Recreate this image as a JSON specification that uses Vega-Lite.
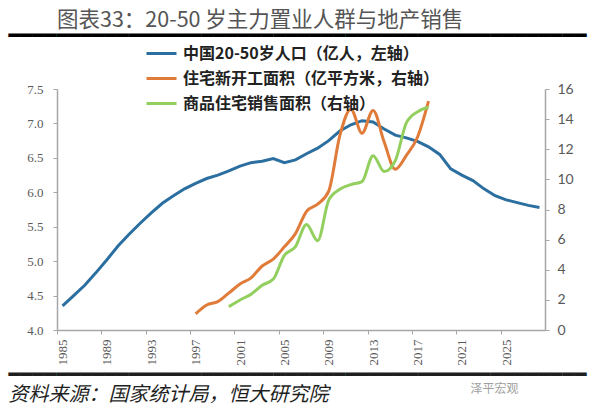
{
  "$schema": "https://vega.github.io/schema/vega-lite/v6.json",
  "width": 488,
  "height": 241,
  "autosize": "none",
  "padding": {"left": 57, "top": 89, "right": 55, "bottom": 82},
  "background": "white",
  "config": {"view": {"stroke": null}, "axis": {"labelOverlap": false, "labelSeparation": 0}},
  "title": {
    "text": "图表33：20-50 岁主力置业人群与地产销售",
    "anchor": "start",
    "frame": "group",
    "font": "Noto Sans CJK SC",
    "fontSize": 21.5,
    "fontWeight": "normal",
    "color": "#555555",
    "offset": -6
  },
  "datasets": {
    "pop": [
      {"year": 1985, "value": 4.35}, {"year": 1986, "value": 4.50}, {"year": 1987, "value": 4.65},
      {"year": 1988, "value": 4.83}, {"year": 1989, "value": 5.02}, {"year": 1990, "value": 5.22},
      {"year": 1991, "value": 5.39}, {"year": 1992, "value": 5.55}, {"year": 1993, "value": 5.70},
      {"year": 1994, "value": 5.84}, {"year": 1995, "value": 5.95}, {"year": 1996, "value": 6.05},
      {"year": 1997, "value": 6.13}, {"year": 1998, "value": 6.20}, {"year": 1999, "value": 6.25},
      {"year": 2000, "value": 6.31}, {"year": 2001, "value": 6.38}, {"year": 2002, "value": 6.43},
      {"year": 2003, "value": 6.45}, {"year": 2004, "value": 6.49}, {"year": 2005, "value": 6.43},
      {"year": 2006, "value": 6.47}, {"year": 2007, "value": 6.56}, {"year": 2008, "value": 6.64},
      {"year": 2009, "value": 6.75}, {"year": 2010, "value": 6.89}, {"year": 2011, "value": 6.98},
      {"year": 2012, "value": 7.04}, {"year": 2013, "value": 7.02}, {"year": 2014, "value": 6.92},
      {"year": 2015, "value": 6.83}, {"year": 2016, "value": 6.79}, {"year": 2017, "value": 6.74},
      {"year": 2018, "value": 6.66}, {"year": 2019, "value": 6.55}, {"year": 2020, "value": 6.34},
      {"year": 2021, "value": 6.25}, {"year": 2022, "value": 6.17}, {"year": 2023, "value": 6.05},
      {"year": 2024, "value": 5.95}, {"year": 2025, "value": 5.89}, {"year": 2026, "value": 5.85},
      {"year": 2027, "value": 5.81}, {"year": 2028, "value": 5.78}
    ],
    "starts": [
      {"year": 1997, "value": 1.07}, {"year": 1998, "value": 1.66}, {"year": 1999, "value": 1.88},
      {"year": 2000, "value": 2.46}, {"year": 2001, "value": 3.05}, {"year": 2002, "value": 3.46},
      {"year": 2003, "value": 4.25}, {"year": 2004, "value": 4.71}, {"year": 2005, "value": 5.52},
      {"year": 2006, "value": 6.40}, {"year": 2007, "value": 7.88}, {"year": 2008, "value": 8.36},
      {"year": 2009, "value": 9.22}, {"year": 2010, "value": 12.90}, {"year": 2011, "value": 14.66},
      {"year": 2012, "value": 13.07}, {"year": 2013, "value": 14.58}, {"year": 2014, "value": 12.48},
      {"year": 2015, "value": 10.67}, {"year": 2016, "value": 11.59}, {"year": 2017, "value": 12.80},
      {"year": 2018, "value": 15.20}
    ],
    "sales": [
      {"year": 2000, "value": 1.55}, {"year": 2001, "value": 1.99}, {"year": 2002, "value": 2.38},
      {"year": 2003, "value": 2.97}, {"year": 2004, "value": 3.38}, {"year": 2005, "value": 4.96},
      {"year": 2006, "value": 5.54}, {"year": 2007, "value": 7.01}, {"year": 2008, "value": 5.93},
      {"year": 2009, "value": 8.62}, {"year": 2010, "value": 9.34}, {"year": 2011, "value": 9.65},
      {"year": 2012, "value": 9.85}, {"year": 2013, "value": 11.57}, {"year": 2014, "value": 10.52},
      {"year": 2015, "value": 11.24}, {"year": 2016, "value": 13.75}, {"year": 2017, "value": 14.48},
      {"year": 2018, "value": 14.79}
    ]
  },
  "layer": [
    {
      "data": {"name": "pop"},
      "mark": {"type": "line", "strokeWidth": 3},
      "encoding": {
        "x": {
          "field": "year",
          "type": "quantitative",
          "scale": {"domain": [1984.5, 2028.5], "nice": false, "zero": false},
          "axis": {
            "values": [1985, 1986, 1987, 1988, 1989, 1990, 1991, 1992, 1993, 1994, 1995, 1996, 1997, 1998, 1999, 2000, 2001, 2002, 2003, 2004, 2005, 2006, 2007, 2008, 2009, 2010, 2011, 2012, 2013, 2014, 2015, 2016, 2017, 2018, 2019, 2020, 2021, 2022, 2023, 2024, 2025, 2026, 2027, 2028],
            "format": "d",
            "labelExpr": "datum.value % 2 == 1 ? datum.label : ''",
            "labelAngle": -90,
            "labelFont": "Liberation Serif",
            "labelFontSize": 13,
            "labelColor": "#595959",
            "labelPadding": 5,
            "labelOverlap": false,
            "labelBound": false,
            "labelFlush": false,
            "tickOffset": -5.545,
            "labelOffset": 5.545,
            "tickSize": 4,
            "tickColor": "#a6a6a6",
            "domainColor": "#a6a6a6",
            "domainWidth": 1.5,
            "grid": false,
            "title": ["━━━━━━━━━━━━━━━━━━━━━━━━━━━━━━━━━━━━━━━━━━━━━━━━", " 资料来源：国家统计局，恒大研究院"],
            "titleX": -49,
            "titleY": 44,
            "titleAlign": "left",
            "titleAnchor": "start",
            "titleBaseline": "middle",
            "titleLineHeight": 20,
            "titleFont": "DejaVu Sans Mono, Noto Sans CJK SC",
            "titleFontStyle": "italic",
            "titleFontWeight": "normal",
            "titleFontSize": 20,
            "titleColor": "#1f1f1f"
          }
        },
        "y": {
          "field": "value",
          "type": "quantitative",
          "scale": {"domain": [4, 7.5], "nice": false, "zero": false},
          "axis": {
            "orient": "left",
            "values": [4, 4.5, 5, 5.5, 6, 6.5, 7, 7.5],
            "format": ".1f",
            "labelFont": "Liberation Serif",
            "labelFontSize": 13,
            "labelColor": "#595959",
            "labelPadding": 10,
            "tickSize": 4,
            "tickColor": "#a6a6a6",
            "domainColor": "#a6a6a6",
            "domainWidth": 1.5,
            "grid": false,
            "title": "泽平宏观",
            "titleAngle": 0,
            "titleX": 413,
            "titleY": 299,
            "titleAlign": "left",
            "titleBaseline": "middle",
            "titleFont": "Noto Sans CJK SC",
            "titleFontSize": 12,
            "titleFontWeight": "normal",
            "titleColor": "#a0a0a0"
          }
        },
        "color": {
          "datum": "中国20-50岁人口（亿人，左轴）",
          "type": "nominal",
          "scale": {
            "domain": ["中国20-50岁人口（亿人，左轴）", "住宅新开工面积（亿平方米，右轴）", "商品住宅销售面积（右轴）"],
            "range": ["#2b6fa0", "#e07b39", "#93cf5f"]
          },
          "legend": {
            "orient": "none",
            "legendX": 88,
            "legendY": -52,
            "direction": "vertical",
            "title": null,
            "symbolType": "stroke",
            "symbolStrokeWidth": 3,
            "symbolSize": 900,
            "labelFont": "Noto Sans CJK SC",
            "labelFontSize": 16,
            "labelFontWeight": "bold",
            "labelColor": "#222222",
            "labelLimit": 400,
            "labelOffset": 5,
            "rowPadding": -0.5
          }
        }
      }
    },
    {
      "encoding": {
        "x": {"field": "year", "type": "quantitative"},
        "y": {
          "field": "value",
          "type": "quantitative",
          "scale": {"domain": [0, 16], "nice": false, "zero": false},
          "axis": {
            "orient": "right",
            "values": [0, 2, 4, 6, 8, 10, 12, 14, 16],
            "labelFont": "Lato",
            "labelFontSize": 14,
            "labelColor": "#595959",
            "labelPadding": 8,
            "tickSize": 4,
            "tickColor": "#a6a6a6",
            "domainColor": "#a6a6a6",
            "domainWidth": 1.5,
            "grid": false,
            "title": "━━━━━━━━━━━━━━━━━━━━━━━━━━━━━━━━━━━━━━━━━━━━━━━━",
            "titleAngle": 0,
            "titleX": -537,
            "titleY": -54,
            "titleAlign": "left",
            "titleBaseline": "middle",
            "titleFont": "DejaVu Sans Mono",
            "titleFontSize": 20,
            "titleFontWeight": "normal",
            "titleColor": "#000000"
          }
        }
      },
      "layer": [
        {
          "data": {"name": "starts"},
          "mark": {"type": "line", "strokeWidth": 3, "interpolate": "monotone"},
          "encoding": {"color": {"datum": "住宅新开工面积（亿平方米，右轴）", "type": "nominal"}}
        },
        {
          "data": {"name": "sales"},
          "mark": {"type": "line", "strokeWidth": 3, "interpolate": "monotone"},
          "encoding": {"color": {"datum": "商品住宅销售面积（右轴）", "type": "nominal"}}
        }
      ]
    }
  ],
  "resolve": {"scale": {"y": "independent"}}
}
